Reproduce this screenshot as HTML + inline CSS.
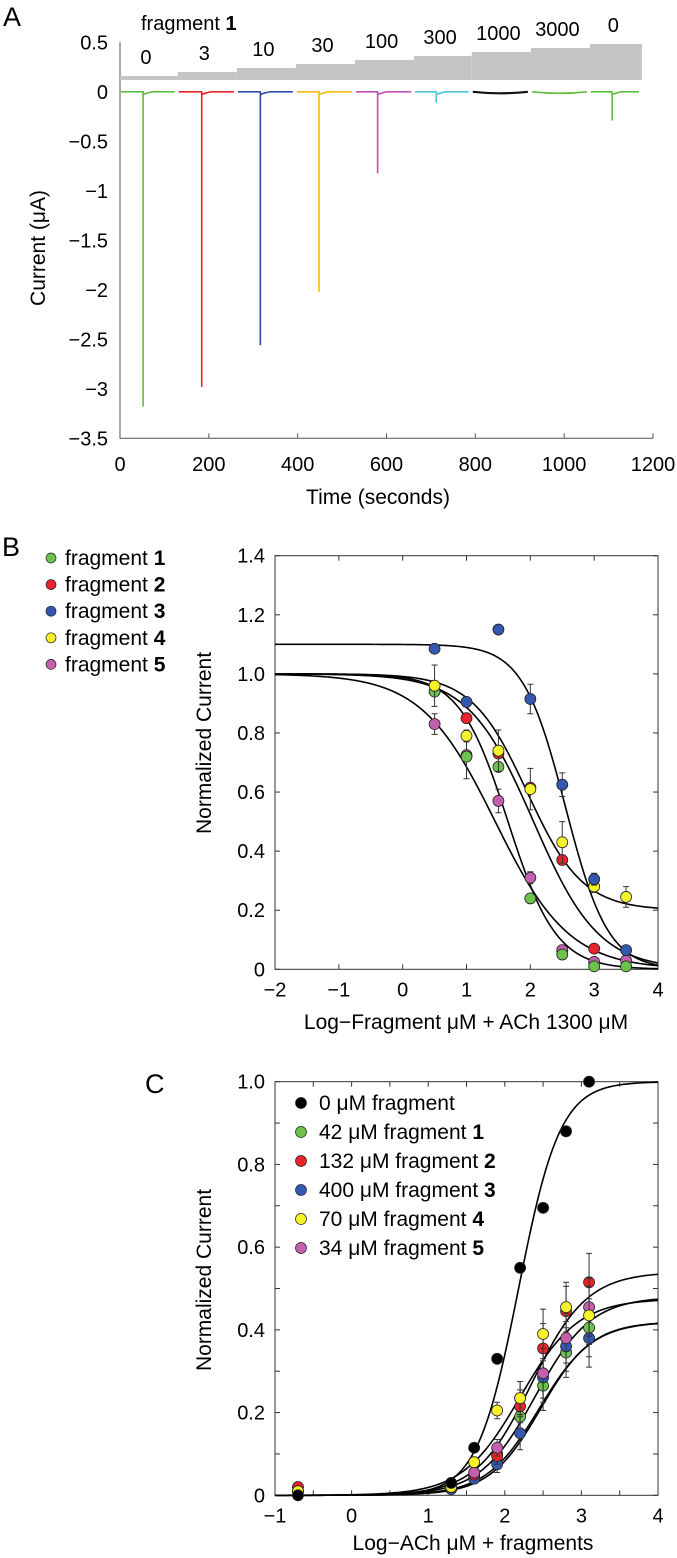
<!DOCTYPE html>
<html><head><meta charset="utf-8"><style>
body{margin:0;background:#fff}
svg{display:block;font-family:"Liberation Sans",Arial,sans-serif}
</style></head><body>
<svg id="fig" width="677" height="1558" viewBox="0 0 677 1558" xmlns="http://www.w3.org/2000/svg">
<g id="pa"></g>
<g id="pb"></g>
<g id="pc"></g>
</svg>
<script>
// ---------- Panel A data ----------
const aConcLabels = ["0","3","10","30","100","300","1000","3000","0"];
const aColors = ["#5cbf3c","#e8212a","#2e4fa8","#f7bd14","#c04fb5","#4fc8d8","#111111","#5cbf3c","#5cbf3c"];
const aStepStarts = [0,130,263,396,529,662,792,925,1058];
const aStepEnd = 1175;
const aStepLevels = [0.16,0.2,0.24,0.28,0.32,0.36,0.4,0.44,0.48];
const aPeakTimes = [52,184,316,448,580,712,null,null,1108];
const aPeakValues = [-3.18,-2.98,-2.56,-2.02,-0.82,-0.11,0,0,-0.29];
const aYTicks = [0.5,0,-0.5,-1,-1.5,-2,-2.5,-3,-3.5];
const aYTickLabels = ["0.5","0","\u22120.5","\u22121","\u22121.5","\u22122","\u22122.5","\u22123","\u22123.5"];
const aXTicks = [0,200,400,600,800,1000,1200];

// ---------- Panel B data ----------
const bX = [0.5,1,1.5,2,2.5,3,3.5];
const bColors = ["#6cc24a","#e8242a","#3358b0","#f8f22a","#c45fb0"];
const bF1 = [0.94,0.72,0.685,0.24,0.05,0.01,0.01];
const bF2 = [null,0.85,0.73,0.615,0.37,0.07,null];
const bF3 = [1.085,0.905,1.15,0.915,0.625,0.305,0.065];
const bF4 = [0.96,0.79,0.74,0.61,0.43,0.28,0.245];
const bF5 = [0.83,0.725,0.57,0.31,0.065,0.025,0.03];
const bErr3 = [0,0,0.015,0.05,0.04,0.02,0];
const bErr4 = [0.07,0.02,0.07,0.07,0.07,0.02,0.035];
const bErr5 = [0.035,0.08,0.04,0.02,0,0,0];
const bTop = [1.0,1.0,1.1,1.0,1.0];
const bBottom = [0,0,0,0.2,0];
const bLogIC50 = [1.65,2.05,2.55,1.95,1.45];
const bHill = [1.15,0.85,1.3,1.0,0.75];
const bYTicks = [0,0.2,0.4,0.6,0.8,1.0,1.2,1.4];
const bYTickLabels = ["0","0.2","0.4","0.6","0.8","1.0","1.2","1.4"];
const bXTicks = [-2,-1,0,1,2,3,4];
const bXTickLabels = ["\u22122","\u22121","0","1","2","3","4"];

// ---------- Panel C data ----------
const cX = [-0.7,1.3,1.6,1.9,2.2,2.5,2.8,3.1];
const cColors = ["#000000","#6cc24a","#e8242a","#3358b0","#f8f22a","#c45fb0"];
const cS0 = [0,0.03,0.115,0.33,0.55,0.695,0.88,1.0];
const cS1 = [0.01,0.02,0.045,0.1,0.19,0.265,0.345,0.405];
const cS2 = [0.02,0.02,0.05,0.095,0.215,0.355,0.445,0.515];
const cS3 = [0.01,0.015,0.04,0.075,0.15,0.285,0.36,0.38];
const cS4 = [0.01,0.02,0.08,0.205,0.235,0.39,0.455,0.435];
const cS5 = [0.01,0.02,0.055,0.115,0.235,0.295,0.38,0.455];
const cErr = [0,0.005,0.01,0.02,0.04,0.06,0.06,0.07];
const cTop = [1.0,0.42,0.54,0.42,0.475,0.48];
const cLogEC50 = [2.18,2.45,2.35,2.47,2.2,2.4];
const cHill = [1.6,1.25,1.2,1.3,1.15,1.2];
const cYTicks = [0,0.2,0.4,0.6,0.8,1.0];
const cYTickLabels = ["0","0.2","0.4","0.6","0.8","1.0"];
const cXTicks = [-1,0,1,2,3,4];
const cXTickLabels = ["\u22121","0","1","2","3","4"];
const cLegend = [["0 \u03bcM fragment",""],[" 42 \u03bcM fragment ","1"],["132 \u03bcM fragment ","2"],["400 \u03bcM fragment ","3"],["70 \u03bcM fragment ","4"],["34 \u03bcM fragment ","5"]];

const NS="http://www.w3.org/2000/svg";
const TICK=20, TITLE=21, LEG=21;
function mk(parent,tag,attrs,text){const e=document.createElementNS(NS,tag);for(const k in attrs)e.setAttribute(k,attrs[k]);if(text!==undefined)e.textContent=text;parent.appendChild(e);return e;}

// ================= Panel A =================
(function(){
const g=document.getElementById('pa');
const X=t=>120+t*(533/1200);
const Y=v=>91.8-v*99;
let e;
e=mk(g,'text',{x:3,y:26,'font-size':27},'A');


e=mk(g,'path',{d:`M120 ${Y(0.5)}V${Y(-3.5)}H${X(1200)}`,fill:'none',stroke:'#555','stroke-width':1});


aXTicks.forEach(t=>{
 mk(g,'line',{x1:X(t),x2:X(t),y1:Y(-3.5),y2:Y(-3.5)-5,stroke:'#555'});
 e=mk(g,'text',{x:X(t),y:471,'font-size':TICK,'text-anchor':'middle'},String(t));
 
 
});
aYTicks.forEach((v,i)=>{
 e=mk(g,'text',{x:108,y:Y(v)+7,'font-size':TICK,'text-anchor':'end'},aYTickLabels[i]);
 
 
});
e=mk(g,'text',{x:378,y:504,'font-size':TITLE,'text-anchor':'middle'},'Time (seconds)');


e=mk(g,'text',{x:45,y:248,'font-size':TITLE,'text-anchor':'middle',transform:'rotate(-90 45 248)'},'Current (\u03bcA)');


const base=80;
aStepStarts.forEach((s,i)=>{
 const x0=X(s), x1=X(i<aStepStarts.length-1?aStepStarts[i+1]:aStepEnd);
 const ty=76-(aStepLevels[i]-0.16)/0.04*4;
 e=mk(g,'rect',{x:x0,y:ty,width:x1-x0,height:base-ty,fill:'#c3c4c6'});
 
 
 e=mk(g,'text',{x:x0+(x1-x0)*0.45,y:ty-12,'font-size':TICK,'text-anchor':'middle'},aConcLabels[i]);
 
 
});
e=mk(g,'text',{x:141,y:30,'font-size':TICK},'fragment ');


mk(e,'tspan',{'font-weight':'bold'},'1');
aStepStarts.forEach((s,i)=>{
 const x0=X(s)+1, x1=X(i<aStepStarts.length-1?aStepStarts[i+1]:aStepEnd)-3;
 const b=Y(0);
 let d;
 if(aPeakTimes[i]!==null){
  const px=X(aPeakTimes[i]);
  d=`M${x0} ${b}H${px}V${Y(aPeakValues[i])}V${b+3}Q${px+3} ${b+1} ${px+10} ${b}H${x1}`;
 } else {
  d=`M${x0} ${b}Q${(x0+x1)/2} ${b+3} ${x1} ${b}`;
 }
 e=mk(g,'path',{d:d,fill:'none',stroke:aColors[i],'stroke-width':i===6?2.2:1.6});
 
 
});
})();

function frame(g,L,R,T,B,X,Y,xt,xl,yt,yl,minorY,minorX){
 let e=mk(g,'rect',{x:L,y:T,width:R-L,height:B-T,fill:'none',stroke:'#333','stroke-width':1});
 
 
 minorX.forEach(v=>{mk(g,'line',{x1:X(v),x2:X(v),y1:B,y2:B-5,stroke:'#333'});mk(g,'line',{x1:X(v),x2:X(v),y1:T,y2:T+5,stroke:'#333'});});
 minorY.forEach(v=>{mk(g,'line',{x1:L,x2:L+5,y1:Y(v),y2:Y(v),stroke:'#333'});mk(g,'line',{x1:R,x2:R-5,y1:Y(v),y2:Y(v),stroke:'#333'});});
 xt.forEach((v,i)=>{e=mk(g,'text',{x:X(v),y:B+27,'font-size':TICK,'text-anchor':'middle'},xl[i]);
  
  });
 yt.forEach((v,i)=>{e=mk(g,'text',{x:L-10,y:Y(v)+7,'font-size':TICK,'text-anchor':'end'},yl[i]);
  
  });
}
function curve(g,X,Y,x0,x1,f,name){
 let d='';for(let k=0;k<=300;k++){const x=x0+(x1-x0)*k/300;d+=(k?'L':'M')+X(x).toFixed(2)+' '+Y(f(x)).toFixed(2);}
 const e=mk(g,'path',{d:d,fill:'none',stroke:'#000','stroke-width':1.6});
 
 
}
function dots(g,X,Y,xs,ys,errs,color,name,r){
 xs.forEach((x,i)=>{
  if(ys[i]===null)return;
  const er=errs?errs[i]:0;
  if(er>0){const cx=X(x);
   mk(g,'path',{d:`M${cx} ${Y(ys[i]-er)}V${Y(ys[i]+er)}M${cx-3} ${Y(ys[i]-er)}H${cx+3}M${cx-3} ${Y(ys[i]+er)}H${cx+3}`,stroke:'#333','stroke-width':1,fill:'none'});}
  const e=mk(g,'circle',{cx:X(x),cy:Y(ys[i]),r:r,fill:color,stroke:'#222','stroke-width':0.8});
  
  
 });
}

// ================= Panel B =================
(function(){
const g=document.getElementById('pb');
const L=275,R=658,T=555.7,B=969.3;
const X=x=>L+(x+2)*(R-L)/6;
const Y=v=>B-v*(B-T)/1.4;
let e=mk(g,'text',{x:2,y:556,'font-size':27},'B');


frame(g,L,R,T,B,X,Y,bXTicks,bXTickLabels,bYTicks,bYTickLabels,bYTicks,bXTicks);
e=mk(g,'text',{x:466,y:1029,'font-size':TITLE,'text-anchor':'middle'},'Log\u2212Fragment \u03bcM + ACh 1300 \u03bcM');


e=mk(g,'text',{x:211,y:743,'font-size':TITLE,'text-anchor':'middle',transform:'rotate(-90 211 743)'},'Normalized Current');


const series=[bF1,bF2,bF3,bF4,bF5];
const errs=[null,null,bErr3,bErr4,bErr5];
series.forEach((s,i)=>{
 curve(g,X,Y,-2,4,x=>bBottom[i]+(bTop[i]-bBottom[i])/(1+Math.pow(10,(x-bLogIC50[i])*bHill[i])),'fit-curve-fragment-'+(i+1));
});
[4,0,1,3,2].forEach(i=>dots(g,X,Y,bX,series[i],errs[i],bColors[i],'point-fragment-'+(i+1),5.5));
for(let i=0;i<5;i++){
 const y=558+i*26.6;
 e=mk(g,'circle',{cx:51,cy:y,r:5,fill:bColors[i],stroke:'#222','stroke-width':0.7});
 
 
 e=mk(g,'text',{x:65,y:y+7,'font-size':LEG},'fragment ');
 
 
 mk(e,'tspan',{'font-weight':'bold'},String(i+1));
}
})();

// ================= Panel C =================
(function(){
const g=document.getElementById('pc');
const L=275,R=658,T=1081.7,B=1495.3;
const X=x=>L+(x+1)*(R-L)/5;
const Y=v=>B-v*(B-T);
let e=mk(g,'text',{x:145,y:1093,'font-size':27},'C');


const minorY=[0,0.1,0.2,0.3,0.4,0.5,0.6,0.7,0.8,0.9,1.0];
const minorX=[-1,-0.5,0,0.5,1,1.5,2,2.5,3,3.5,4];
frame(g,L,R,T,B,X,Y,cXTicks,cXTickLabels,cYTicks,cYTickLabels,minorY,minorX);
e=mk(g,'text',{x:473,y:1550,'font-size':TITLE,'text-anchor':'middle'},'Log\u2212ACh \u03bcM + fragments');


e=mk(g,'text',{x:211,y:1280,'font-size':TITLE,'text-anchor':'middle',transform:'rotate(-90 211 1280)'},'Normalized Current');


const series=[cS0,cS1,cS2,cS3,cS4,cS5];
series.forEach((s,i)=>{
 curve(g,X,Y,-1,4,x=>cTop[i]/(1+Math.pow(10,(cLogEC50[i]-x)*cHill[i])),'fit-curve-'+i);
});
[1,3,2,5,4,0].forEach(i=>dots(g,X,Y,cX,series[i],i===0?null:cErr,cColors[i],'point-series-'+i,5.5));
cLegend.forEach((lg,i)=>{
 const y=1103+i*29;
 e=mk(g,'circle',{cx:301,cy:y,r:5.5,fill:cColors[i],stroke:'#222','stroke-width':0.7});
 
 
 e=mk(g,'text',{x:319,y:y+7,'font-size':LEG},lg[0]);
 
 
 if(lg[1])mk(e,'tspan',{'font-weight':'bold'},lg[1]);
});
})();
</script>
</body></html>
